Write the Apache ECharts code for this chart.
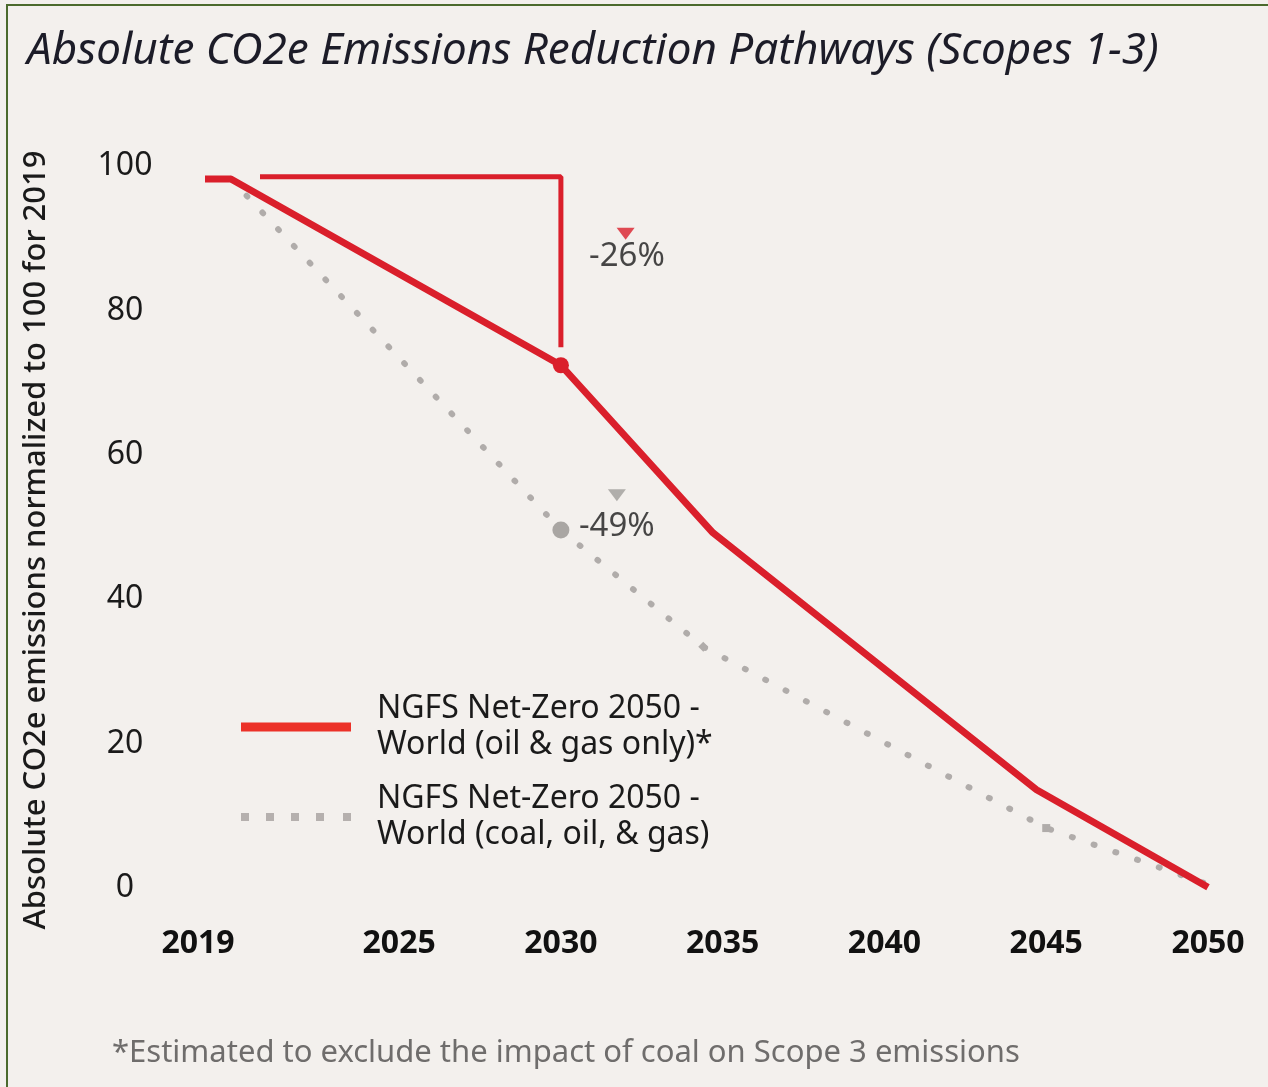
<!DOCTYPE html>
<html>
<head>
<meta charset="utf-8">
<script src="https://cdn.jsdelivr.net/npm/echarts@6/dist/echarts.min.js"></script>
<style>
html,body{margin:0;padding:0;background:#f3f0ed;}
#chart{position:absolute;left:0;top:0;width:1268px;height:1087px;}
#frame{position:absolute;left:6px;top:4px;width:1262px;height:1083px;border-top:2px solid #4b6a2d;border-left:2px solid #4b6a2d;box-sizing:border-box;pointer-events:none;}
</style>
</head>
<body>
<div id="chart"></div>
<div id="frame"></div>
<script>
// ---- data ----
const yearTicks = [2019, 2025, 2030, 2035, 2040, 2045, 2050];
const oilGasYears  = [2019, 2019.8, 2030, 2034.7, 2044.7, 2050];
const oilGasValues = [98.2, 98.2, 72.4, 49.2, 13.6, 0.1];
const allFossilYears  = [2019.8, 2030, 2034.4, 2045, 2050];
const allFossilValues = [98.2, 49.6, 33.4, 8.3, 0.5];
const yTicks = [0, 20, 40, 60, 80, 100];
const seriesNames = ['NGFS Net-Zero 2050 -\nWorld (oil & gas only)*', 'NGFS Net-Zero 2050 -\nWorld (coal, oil, & gas)'];
const changeLabels = ['-26%', '-49%'];

const RED = '#da1f2b';
const GREY = '#b0acaa';
const FONT = '"Noto Sans", "Open Sans", sans-serif';

const redData = oilGasYears.map((x, i) => {
  const item = { value: [x, oilGasValues[i]] };
  if (x === 2030) { item.symbol = 'circle'; item.symbolSize = 16; }
  return item;
});
const greyData = allFossilYears.map((x, i) => {
  const item = { value: [x, allFossilValues[i]] };
  if (x === 2030) { item.symbol = 'circle'; item.symbolSize = 17; item.itemStyle = { color: '#a9a6a3' }; }
  else if (i === 2) { item.symbol = 'diamond'; item.symbolSize = 10; }
  else if (i === 3) { item.symbol = 'rect'; item.symbolSize = 8; }
  return item;
});

const dotIcon = 'path://M0,0h8v8h-8z M25,0h8v8h-8z M50,0h8v8h-8z M75,0h8v8h-8z M102,0h8v8h-8z';

const chart = echarts.init(document.getElementById('chart'), null, { renderer: 'canvas' });
chart.setOption({
  backgroundColor: '#f3f0ed',
  animation: false,
  title: {
    text: 'Absolute CO2e Emissions Reduction Pathways (Scopes 1-3)',
    left: 22, top: 24,
    textStyle: { fontFamily: FONT, fontStyle: 'italic', fontWeight: 'normal', fontSize: 44, color: '#1c1c28' }
  },
  grid: { left: 205, right: 60, top: 166, bottom: 199 },
  xAxis: {
    type: 'value', min: 2019, max: 2050,
    axisLine: { show: false }, axisTick: { show: false }, splitLine: { show: false },
    axisLabel: {
      customValues: yearTicks,
      formatter: v => (v === yearTicks[0] ? '{first|' + v + '}' : String(v)),
      margin: 40,
      fontFamily: FONT, fontWeight: 'bold', fontSize: 32, color: '#111',
      rich: { first: { fontFamily: FONT, fontWeight: 'bold', fontSize: 32, color: '#111', padding: [0, 14, 0, 0] } }
    }
  },
  yAxis: {
    type: 'value', min: 0, max: 100, interval: 20,
    name: 'Absolute CO2e emissions normalized to 100 for 2019',
    nameLocation: 'middle', nameGap: 153, nameRotate: 90,
    nameTextStyle: { fontFamily: FONT, fontSize: 31, fontWeight: 500, color: '#1a1a1a', padding: [0, 26, 0, 0] },
    axisLine: { show: false }, axisTick: { show: false }, splitLine: { show: false },
    axisLabel: {
      customValues: yTicks,
      align: 'center', margin: 80,
      fontFamily: FONT, fontSize: 32, color: '#1a1a1a'
    }
  },
  legend: {
    orient: 'vertical', left: 236, top: 686,
    itemWidth: 110, itemHeight: 9, itemGap: 18,
    data: [
      { name: seriesNames[0], icon: 'rect', itemStyle: { color: '#ec3128', borderWidth: 0 } },
      { name: seriesNames[1], icon: dotIcon, itemStyle: { color: '#b5b0ae', borderWidth: 0 } }
    ],
    textStyle: { fontFamily: FONT, fontSize: 32, lineHeight: 36, color: '#1a1a1a', padding: [0, 0, 0, 21] },
    selectedMode: false
  },
  series: [
    {
      name: seriesNames[1], type: 'line', z: 2, silent: true,
      symbol: 'none', showSymbol: true,
      itemStyle: { color: GREY },
      lineStyle: { color: GREY, width: 6, type: [1, 22], cap: 'round' },
      data: greyData
    },
    {
      name: seriesNames[0], type: 'line', z: 4, silent: true,
      symbol: 'none', showSymbol: true,
      itemStyle: { color: RED },
      lineStyle: { color: RED, width: 7 },
      data: redData
    },
    {
      name: 'bracket', type: 'line', z: 3, silent: true, symbol: 'none',
      lineStyle: { color: RED, width: 5 },
      data: [[2020.7, 98.5], [2030, 98.5], [2030, 74.9]]
    },
    {
      name: 'annotations', type: 'scatter', z: 5, silent: true,
      data: [
        { value: [2032.0, 90.6], symbol: 'triangle', symbolRotate: 180, symbolSize: [18, 12], itemStyle: { color: RED } },
        { value: [2031.73, 54.4], symbol: 'triangle', symbolRotate: 180, symbolSize: [18, 12], itemStyle: { color: '#9f9d9a' } },
        { value: [2032.04, 87.4], symbolSize: 0, label: { show: true, position: 'inside', formatter: changeLabels[0], fontFamily: FONT, fontSize: 33, color: '#1a1a1a' } },
        { value: [2031.73, 50.0], symbolSize: 0, label: { show: true, position: 'inside', formatter: changeLabels[1], fontFamily: FONT, fontSize: 33, color: '#1a1a1a' } }
      ]
    }
  ],
  graphic: [
    {
      type: 'text', left: 112, top: 1038,
      style: { text: '*Estimated to exclude the impact of coal on Scope 3 emissions', fontFamily: FONT, fontSize: 31, fill: '#6f6d6c' }
    }
  ]
});
</script>
</body>
</html>
